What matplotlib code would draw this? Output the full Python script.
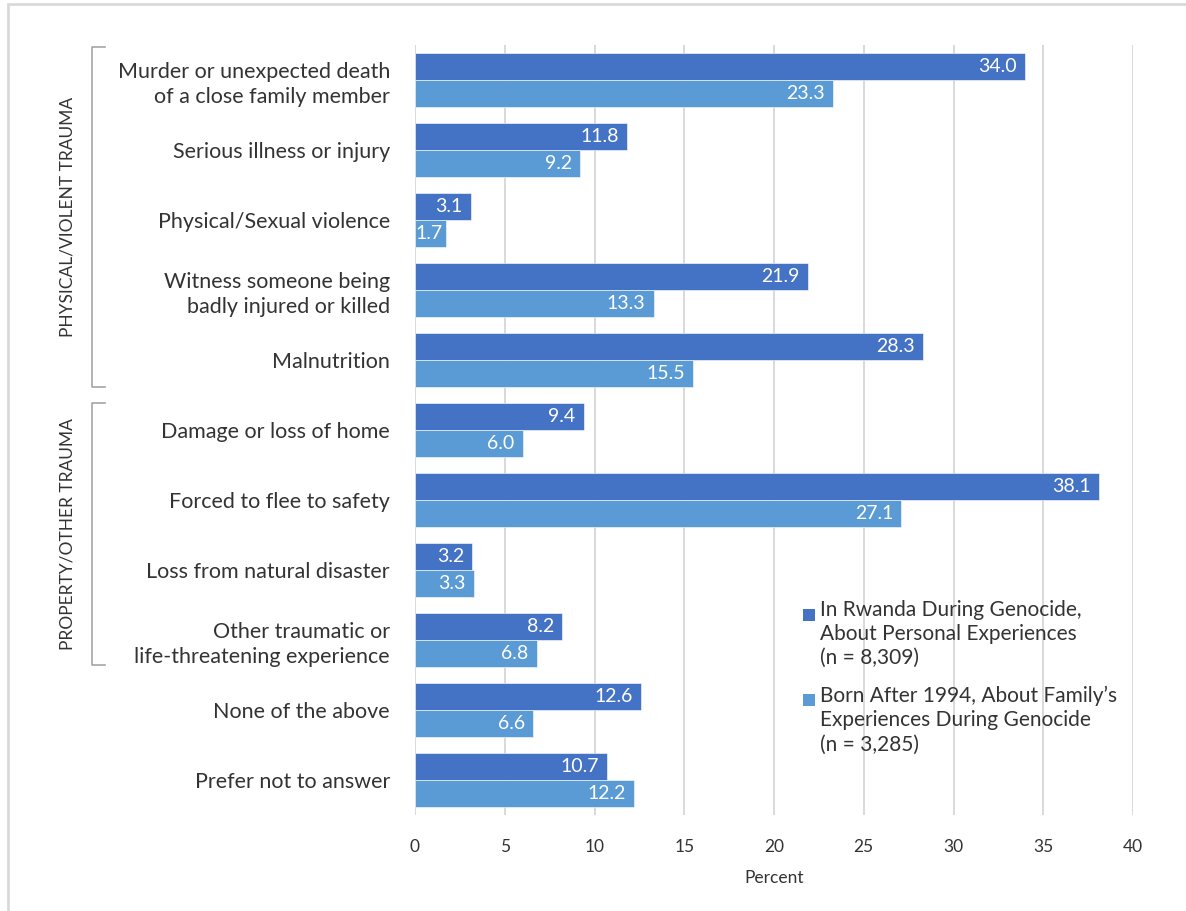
import matplotlib
matplotlib.use("Agg")
import matplotlib.pyplot as plt
from matplotlib.patches import Rectangle
from matplotlib.lines import Line2D
import numpy as np

plt.rcParams['font.family'] = ['Lato', 'DejaVu Sans']

categories = [
    "Murder or unexpected death\nof a close family member",
    "Serious illness or injury",
    "Physical/Sexual violence",
    "Witness someone being\nbadly injured or killed",
    "Malnutrition",
    "Damage or loss of home",
    "Forced to flee to safety",
    "Loss from natural disaster",
    "Other traumatic or\nlife-threatening experience",
    "None of the above",
    "Prefer not to answer",
]
in_rwanda = [34.0, 11.8, 3.1, 21.9, 28.3, 9.4, 38.1, 3.2, 8.2, 12.6, 10.7]
born_after = [23.3, 9.2, 1.7, 13.3, 15.5, 6.0, 27.1, 3.3, 6.8, 6.6, 12.2]
series_labels = [
    "In Rwanda During Genocide,\nAbout Personal Experiences\n(n = 8,309)",
    "Born After 1994, About Family\u2019s\nExperiences During Genocide\n(n = 3,285)",
]
groups = [("PHYSICAL/VIOLENT TRAUMA", 0, 4), ("PROPERTY/OTHER TRAUMA", 5, 8)]
x_ticks = [0, 5, 10, 15, 20, 25, 30, 35, 40]

DARK = "#4472C4"
LIGHT = "#5B9BD5"
TXT = "#333333"
GRID = "#d9d9d9"

W, H = 1186, 911
fig = plt.figure(figsize=(W / 100, H / 100), dpi=100)
ax = fig.add_axes([415 / W, 1 - 815 / H, 718 / W, 770 / H])

y = np.arange(len(categories))
bh = 0.38
ax.barh(y - bh / 2, in_rwanda, height=bh, color=DARK, edgecolor="white", linewidth=0.4, zorder=3)
ax.barh(y + bh / 2, born_after, height=bh, color=LIGHT, edgecolor="white", linewidth=0.4, zorder=3)

ax.set_xlim(0, 40)
ax.set_ylim(len(categories) - 0.5, -0.5)
ax.set_xticks(x_ticks)
ax.set_xticklabels([str(t) for t in x_ticks])
ax.set_yticks(y)
ax.set_yticklabels(categories, fontsize=15.5, color=TXT, linespacing=1.3)
ax.tick_params(axis="y", length=0, pad=18)
ax.tick_params(axis="x", length=0, pad=17, labelsize=12.5, labelcolor=TXT)
for s in ax.spines.values():
    s.set_visible(False)
ax.grid(axis="x", color=GRID, linewidth=1.4, zorder=0)
ax.set_xlabel("Percent", fontsize=12.5, color=TXT, labelpad=11)

# value labels inside bar ends
value_texts = []
for vals, off in ((in_rwanda, -bh / 2), (born_after, bh / 2)):
    for i, v in enumerate(vals):
        t = ax.annotate(f"{v:.1f}", xy=(v, i + off), xytext=(-6, 0), textcoords="offset points",
                        ha="right", va="center", color="white", fontsize=14, zorder=4,
                        annotation_clip=False)
        value_texts.append((t, v, i + off))

# labels wider than their bar start at the axis instead
fig.canvas.draw()
renderer = fig.canvas.get_renderer()
x0_px = ax.transData.transform((0, 0))[0]
for t, v, yy in value_texts:
    bb = t.get_window_extent(renderer)
    if bb.x0 < x0_px:
        t.set_ha("left")
        t.xy = (0, yy)
        t.set_position((0, 0))

# group brackets on the left
btrans = ax.get_yaxis_transform()
bx, btip, lx = -0.4499, -0.4318, -0.4833
insets = [(-0.47, 0.39), (-0.39, 0.36)]
for (name, a, b), (ta, tb) in zip(groups, insets):
    y0, y1 = a + ta, b + tb
    ax.add_line(Line2D([btip, bx, bx, btip], [y0, y0, y1, y1], transform=btrans,
                       color="#a6a6a6", linewidth=1.2, clip_on=False))
    ax.text(lx, (y0 + y1) / 2, name, transform=btrans, rotation=90, ha="center", va="center",
            fontsize=12.5, color=TXT)

# legend entries
legend_items = [(DARK, 609, 600), (LIGHT, 694, 686)]
for (col, sq_top, ty), lab in zip(legend_items, series_labels):
    fig.add_artist(Rectangle((803 / W, 1 - (sq_top + 12) / H), 12 / W, 12 / H,
                             transform=fig.transFigure, facecolor=col, edgecolor="none"))
    fig.text(820 / W, 1 - ty / H, lab, ha="left", va="top", fontsize=15,
             color=TXT, linespacing=1.25)

# outer frame
fig.add_artist(Rectangle((8 / W, -0.05), 1.2, 1 - 4 / H + 0.05, transform=fig.transFigure,
                         fill=False, edgecolor=GRID, linewidth=2))

fig.savefig("out.png", dpi=100)
